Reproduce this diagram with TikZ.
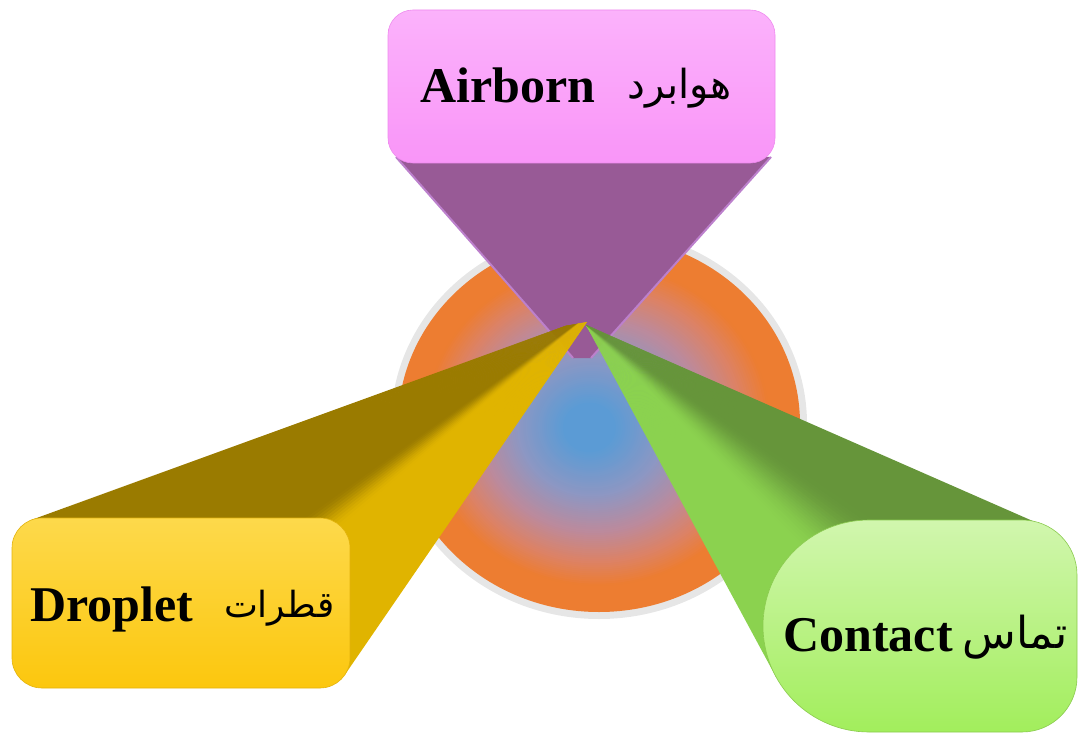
\documentclass[tikz,border=0pt]{standalone}
\usepackage{fontspec}
\setmainfont{Liberation Serif}
\newfontfamily\arabicfont[Script=Arabic]{DejaVu Sans}
\TeXXeTstate=1
\usetikzlibrary{calc}
\definecolor{pinkTop}{HTML}{FBB2FB}
\definecolor{pinkBot}{HTML}{F995F8}
\definecolor{pinkEdge}{HTML}{EE8AEE}
\definecolor{purpleF}{HTML}{985A96}
\definecolor{purpleE}{HTML}{BC80CC}
\definecolor{yelTop}{HTML}{FDD94B}
\definecolor{yelBot}{HTML}{FCC70E}
\definecolor{olive}{HTML}{9A7B00}
\definecolor{gold}{HTML}{E0B400}
\definecolor{gTop}{HTML}{D1F6AE}
\definecolor{gBot}{HTML}{A2EE5C}
\definecolor{gDark}{HTML}{66953A}
\definecolor{gLight}{HTML}{8BD24F}
\definecolor{ringC}{HTML}{E6E6E6}
\definecolor{orangeC}{HTML}{ED7D31}
\definecolor{blueC}{HTML}{5B9BD5}
\definecolor{midA}{HTML}{8D97C3}
\definecolor{midB}{HTML}{BC8A9C}
\definecolor{midC}{HTML}{DC8266}
\begin{document}
\begin{tikzpicture}[x=0.5pt,y=-0.5pt,
  lbl/.style={font=\bfseries\fontsize{25}{30}\selectfont, inner sep=0pt, anchor=base west},
  albl/.style={font=\arabicfont\fontsize{20}{26}\selectfont, inner sep=0pt, anchor=base east}]
\useasboundingbox (0,0) rectangle (1079,732);
% central disc with a hand-made radial gradient
\fill[ringC] (599,424) ellipse [x radius=208, y radius=195];
\foreach \k in {0,...,90}{
  \pgfmathsetmacro{\u}{1-\k/91}
  \pgfmathsetmacro{\rx}{201*\u}
  \pgfmathsetmacro{\ry}{188*\u}
  \pgfmathsetmacro{\cx}{599-11*(1-\u)}
  \pgfmathsetmacro{\cy}{424+4*(1-\u)}
  \ifdim \u pt > 0.86pt
    \colorlet{cc}{orangeC}
  \else\ifdim \u pt > 0.73pt
    \pgfmathtruncatemacro{\p}{100*(\u-0.73)/0.13}\colorlet{cc}{orangeC!\p!midC}
  \else\ifdim \u pt > 0.57pt
    \pgfmathtruncatemacro{\p}{100*(\u-0.57)/0.16}\colorlet{cc}{midC!\p!midB}
  \else\ifdim \u pt > 0.37pt
    \pgfmathtruncatemacro{\p}{100*(\u-0.37)/0.20}\colorlet{cc}{midB!\p!midA}
  \else\ifdim \u pt > 0.13pt
    \pgfmathtruncatemacro{\p}{100*(\u-0.13)/0.24}\colorlet{cc}{midA!\p!blueC}
  \else
    \colorlet{cc}{blueC}
  \fi\fi\fi\fi\fi
  \fill[cc] (\cx,\cy) ellipse [x radius=\rx, y radius=\ry];
}
% purple funnel
\coordinate (pL) at (396,157);
\coordinate (pR) at (771,157);
\coordinate (pB1) at (573,358);
\coordinate (pB2) at (591,358);
\fill[purpleF] (pL) -- (pR) -- (pB2) -- (pB1) -- cycle;
\draw[purpleE, line width=1pt] (pL) -- (pB1);
\draw[purpleE, line width=1pt] (pR) -- (pB2);
% top box
\shade[top color=pinkTop, bottom color=pinkBot, draw=pinkEdge, line width=0.3pt, rounded corners=12.5pt] (388,10) rectangle (775,163);
% green cone
\coordinate (gA) at (586,325);
\coordinate (gL) at (776,677);
\coordinate (gT) at (1035,522);
\foreach \i in {0,...,79}{
  \pgfmathsetmacro{\ta}{\i/80}
  \pgfmathsetmacro{\tb}{min(1,(\i+1.5)/80)}
  \pgfmathsetmacro{\tm}{(\i+0.5)/80}
  \pgfmathsetmacro{\xx}{max(0,min(1,(\tm-0.36)/0.31))}
  \pgfmathtruncatemacro{\p}{100*\xx*\xx*(3-2*\xx)}
  \fill[gDark!\p!gLight] (gA) -- ($(gL)!\ta!(gT)$) -- ($(gL)!\tb!(gT)$) -- cycle;
}
\shade[top color=gTop, bottom color=gBot, draw=gBot!85!black, line width=0.3pt]
  (869,520) -- (1022,520) arc[start angle=-90, end angle=0, radius=55]
  -- (1077,677) arc[start angle=0, end angle=90, radius=55]
  -- (869,732) arc[start angle=90, end angle=270, radius=106] -- cycle;
% yellow cone
\coordinate (yA1) at (565,326);
\coordinate (yA2) at (587,322);
\coordinate (yTL) at (31.7,519.8);
\coordinate (yBR) at (344.7,675);
\foreach \i in {0,...,79}{
  \pgfmathsetmacro{\ta}{\i/80}
  \pgfmathsetmacro{\tb}{min(1,(\i+1.5)/80)}
  \pgfmathsetmacro{\tm}{(\i+0.5)/80}
  \pgfmathsetmacro{\xx}{max(0,min(1,(\tm-0.50)/0.14))}
  \pgfmathtruncatemacro{\p}{100*\xx*\xx*(3-2*\xx)}
  \fill[gold!\p!olive] ($(yA1)!\ta!(yA2)$) -- ($(yTL)!\ta!(yBR)$) -- ($(yTL)!\tb!(yBR)$) -- ($(yA1)!\tb!(yA2)$) -- cycle;
}
\shade[top color=yelTop, bottom color=yelBot, draw=yelBot!90!black, line width=0.3pt, rounded corners=15pt] (12,518) rectangle (350,688);
% labels
\node[lbl] (airT) at (420,103) {Airborn};
\node[albl] (airA) at (732,99) {\beginR هوابرد\endR};
\node[lbl] (dropT) at (30,621) {Droplet};
\node[albl, font=\arabicfont\fontsize{18}{24}\selectfont] (dropA) at (335,617) {\beginR قطرات\endR};
\node[lbl] (contT) at (783,651) {Contact};
\node[albl, font=\arabicfont\fontsize{22}{28}\selectfont] (contA) at (1068,648) {\beginR تماس\endR};
\end{tikzpicture}
\end{document}
